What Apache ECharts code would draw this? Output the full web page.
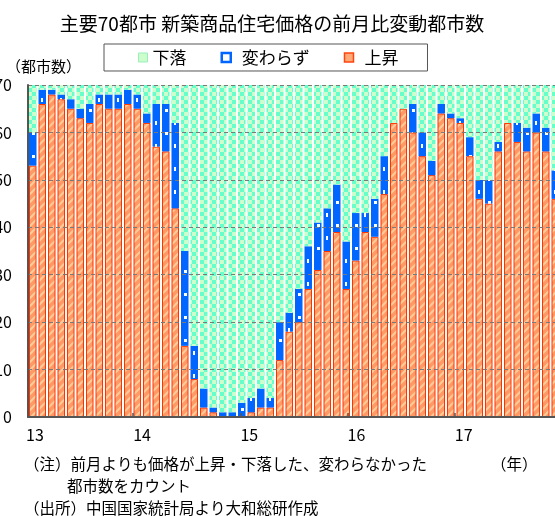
<!DOCTYPE html>
<html><head><meta charset="utf-8">
<script src="https://cdn.jsdelivr.net/npm/echarts@6/dist/echarts.min.js"></script>
<style>html,body{margin:0;padding:0;background:#fff}#c{width:555px;height:516px}</style>
</head><body><div id="c"></div>
<script>
// Monthly categories: Jan 2013 .. Aug 2017
const months = [
 '2013-01','2013-02','2013-03','2013-04','2013-05','2013-06','2013-07','2013-08','2013-09','2013-10','2013-11','2013-12',
 '2014-01','2014-02','2014-03','2014-04','2014-05','2014-06','2014-07','2014-08','2014-09','2014-10','2014-11','2014-12',
 '2015-01','2015-02','2015-03','2015-04','2015-05','2015-06','2015-07','2015-08','2015-09','2015-10','2015-11','2015-12',
 '2016-01','2016-02','2016-03','2016-04','2016-05','2016-06','2016-07','2016-08','2016-09','2016-10','2016-11','2016-12',
 '2017-01','2017-02','2017-03','2017-04','2017-05','2017-06','2017-07','2017-08'];
// 上昇 (rose)
const upCounts = [
 53,66,68,67,65,63,62,66,65,65,66,65,
 62,57,56,44,15,8,2,1,0,0,0,1,
 2,2,12,18,20,27,31,35,39,27,33,39,
 38,47,62,65,60,55,51,64,63,62,55,46,
 45,56,62,58,56,60,56,46];
// 変わらず (unchanged)
const flatCounts = [
 7,3,1,1,2,2,4,2,3,3,3,3,
 2,9,10,18,20,7,4,1,1,1,3,3,
 4,2,8,4,7,9,10,9,10,10,10,4,
 8,8,0,0,6,5,3,2,1,1,4,4,
 5,2,0,4,5,4,5,6];
// 下落 (fell)
const downCounts = [
 10,1,1,2,3,5,4,2,2,2,1,2,
 6,4,4,8,35,55,64,68,69,69,67,66,
 64,66,50,48,43,34,29,26,21,33,27,27,
 24,15,8,5,4,10,16,4,6,7,11,20,
 20,12,8,8,9,6,9,18];
const yearLabels = ['13','14','15','16','17'];
const seriesNames = ['上昇','変わらず','下落'];
const legendOrder = ['下落','変わらず','上昇'];

function makePattern(w, h, draw) {
  const c = document.createElement('canvas');
  c.width = w; c.height = h;
  draw(c.getContext('2d'));
  return c;
}
const greenPat = makePattern(8, 8, g => {
  g.fillStyle = '#66ffcc'; g.fillRect(0, 0, 8, 8);
  g.fillStyle = '#ccffcc'; g.fillRect(0, 0, 4, 4); g.fillRect(4, 4, 4, 4);
});
const orangePat = makePattern(8, 8, g => {
  g.fillStyle = '#ff9966'; g.fillRect(0, 0, 8, 8);
  g.strokeStyle = '#ffcc99'; g.lineWidth = 2;
  [[-4, 4, 4, -4], [0, 8, 8, 0], [4, 12, 12, 4]].forEach(l => {
    g.beginPath(); g.moveTo(l[0], l[1]); g.lineTo(l[2], l[3]); g.stroke();
  });
});
const bluePat = makePattern(19, 23, g => {
  g.fillStyle = '#0066ff'; g.fillRect(0, 0, 19, 23);
  g.fillStyle = '#ffffff'; g.fillRect(3, 6, 2, 4); g.fillRect(13, 17, 3, 3);
});

const NUM_FONT = "'Noto Sans CJK JP', sans-serif";
const JP_FONT = "'Noto Sans CJK JP', sans-serif";

const chart = echarts.init(document.getElementById('c'), null, {renderer: 'canvas'});
chart.setOption({
  animation: false,
  backgroundColor: '#ffffff',
  grid: [
    {left: 28, top: 85, width: 532, height: 332, containLabel: false, outerBoundsMode: 'none'},
    {left: 26, top: 85, width: 536, height: 332, containLabel: false, outerBoundsMode: 'none'}
  ],
  legend: {
    left: 104, top: 44,
    orient: 'horizontal',
    padding: [5, 29, 5, 34],
    borderColor: '#555', borderWidth: 1,
    itemWidth: 9, itemHeight: 9, itemGap: 34,
    textStyle: {fontFamily: JP_FONT, fontSize: 17, color: '#000'},
    data: [
      {name: legendOrder[0], icon: 'rect', itemStyle: {color: '#ccffcc', borderColor: '#99eebb', borderWidth: 1}},
      {name: legendOrder[1], icon: 'rect', itemStyle: {color: '#ffffff', borderColor: '#0066ff', borderWidth: 2.5},
       textStyle: {padding: [0, 0, 0, 6]}},
      {name: legendOrder[2], icon: 'rect', itemStyle: {color: '#ffaa77', borderColor: '#ff4411', borderWidth: 1.5},
       textStyle: {padding: [0, 0, 0, 6]}}
    ]
  },
  xAxis: [
    {type: 'category', gridIndex: 0, data: months, z: 10,
     axisLine: {show: true, lineStyle: {color: '#555', width: 2}},
     axisTick: {show: false}, axisLabel: {show: false}, splitLine: {show: false}},
    {type: 'value', gridIndex: 1, min: 0, max: 5, interval: 1, z: 11,
     axisLine: {show: false},
     axisTick: {show: true, inside: true, length: 4, customValues: [1, 2, 3, 4], lineStyle: {color: '#555', width: 1.5}},
     axisLabel: {show: true, align: 'left', margin: 10, fontFamily: NUM_FONT, fontSize: 16, color: '#000',
       customValues: [0, 1, 2, 3, 4], formatter: v => yearLabels[v] || ''},
     splitLine: {show: false}}
  ],
  yAxis: [
    {type: 'value', gridIndex: 0, min: 0, max: 70, interval: 10, z: 10,
     axisLine: {show: true, lineStyle: {color: '#555', width: 2}},
     axisTick: {show: false},
     axisLabel: {margin: 16, fontFamily: NUM_FONT, fontSize: 16, color: '#000'},
     splitLine: {show: true, lineStyle: {color: '#7a7a7a', width: 1, type: [4, 3]}}},
    {type: 'value', gridIndex: 1, min: 0, max: 70, show: false}
  ],
  series: [
    {name: seriesNames[0], type: 'bar', stack: 'cnt', xAxisIndex: 0, yAxisIndex: 0, data: upCounts,
     barWidth: 7.5, silent: true,
     itemStyle: {color: {image: orangePat, repeat: 'repeat'}, borderColor: '#ff3300', borderWidth: 1}},
    {name: seriesNames[1], type: 'bar', stack: 'cnt', xAxisIndex: 0, yAxisIndex: 0, data: flatCounts,
     barWidth: 7.5, silent: true,
     itemStyle: {color: {image: bluePat, repeat: 'repeat'}, borderWidth: 0}},
    {name: seriesNames[2], type: 'bar', stack: 'cnt', xAxisIndex: 0, yAxisIndex: 0, data: downCounts,
     barWidth: 8, silent: true,
     itemStyle: {color: {image: greenPat, repeat: 'repeat'}, borderWidth: 0}}
  ],
  graphic: [
    {type: 'text', x: 272, y: 24, style: {text: '主要70都市 新築商品住宅価格の前月比変動都市数',
      font: '19px ' + JP_FONT, fill: '#000', textAlign: 'center', textVerticalAlign: 'middle'}},
    {type: 'text', x: 6, y: 66, style: {text: '（都市数）', font: '15px ' + JP_FONT, fill: '#000', textVerticalAlign: 'middle'}},
    {type: 'text', x: 24, y: 464, style: {text: '（注）前月よりも価格が上昇・下落した、変わらなかった', font: '15.5px ' + JP_FONT, fill: '#000', textVerticalAlign: 'middle'}},
    {type: 'text', x: 67, y: 486, style: {text: '都市数をカウント', font: '15.5px ' + JP_FONT, fill: '#000', textVerticalAlign: 'middle'}},
    {type: 'text', x: 24, y: 508, style: {text: '（出所）中国国家統計局より大和総研作成', font: '15.5px ' + JP_FONT, fill: '#000', textVerticalAlign: 'middle'}},
    {type: 'text', x: 491, y: 464, style: {text: '（年）', font: '15.5px ' + JP_FONT, fill: '#000', textVerticalAlign: 'middle'}}
  ]
});
</script>
</body></html>
